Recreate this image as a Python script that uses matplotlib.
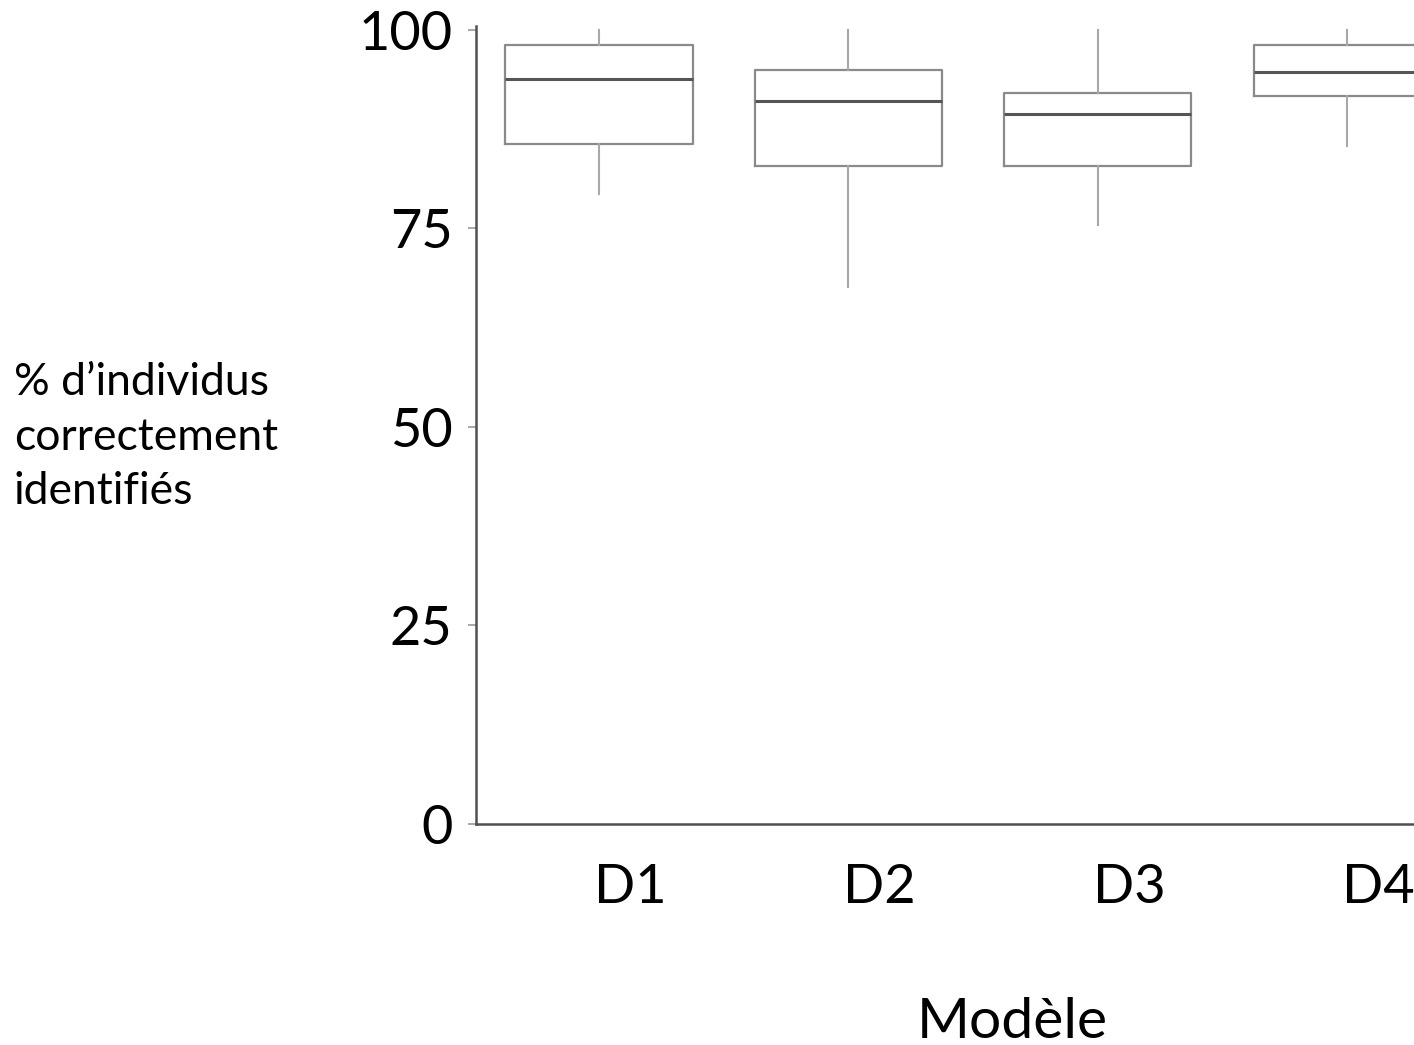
import matplotlib
matplotlib.use("Agg")
import matplotlib.pyplot as plt
from matplotlib.transforms import ScaledTranslation

# Per-model distribution summaries (% of individuals correctly identified)
models = ["D1", "D2", "D3", "D4"]
whisker_low = [79.4, 67.6, 75.5, 85.4]
q1 = [85.6, 82.9, 82.9, 91.7]
median = [93.8, 91.0, 89.4, 94.7]
q3 = [98.1, 95.0, 92.0, 98.1]
whisker_high = [100.0, 100.0, 100.0, 100.0]
y_ticks = [0, 25, 50, 75, 100]

plt.rcParams["font.family"] = ["Lato", "DejaVu Sans"]

fig = plt.figure(figsize=(14.14, 10.45), dpi=100)
fig.patch.set_facecolor("white")

ax = fig.add_axes([476 / 1414, 221 / 1045, 996 / 1414, 798 / 1045])

stats = [
    dict(label=m, whislo=lo, q1=a, med=md, q3=b, whishi=hi, fliers=[])
    for m, lo, a, md, b, hi in zip(models, whisker_low, q1, median, q3, whisker_high)
]
positions = list(range(1, len(models) + 1))
ax.bxp(
    stats,
    positions=positions,
    widths=0.75,
    showcaps=False,
    showfliers=False,
    boxprops=dict(color="#8a8a8a", linewidth=1.6),
    whiskerprops=dict(color="#a8a8a8", linewidth=1.5),
    medianprops=dict(color="#555555", linewidth=2.2),
)

ax.set_xlim(0.507, 4.5)
ax.set_ylim(0, 100.5)

ax.set_yticks(y_ticks)
ax.set_yticklabels([str(t) for t in y_ticks])
ax.tick_params(axis="y", length=6, width=1.2, color="#999999", pad=11, labelsize=39)
ax.set_xticks(positions)
ax.set_xticklabels(models)
ax.tick_params(axis="x", length=0, pad=28, labelsize=39)
shift = ScaledTranslation(31 / 100, 0, fig.dpi_scale_trans)
for lbl in ax.get_xticklabels():
    lbl.set_transform(lbl.get_transform() + shift)

for side in ("top", "right"):
    ax.spines[side].set_visible(False)
for side in ("left", "bottom"):
    ax.spines[side].set_color("#505050")
    ax.spines[side].set_linewidth(1.8)

fig.text(1012 / 1414, 1 - 1022 / 1045, "Modèle", ha="center", va="center", fontsize=41)
fig.text(14 / 1414, 1 - 437 / 1045, "% d’individus\ncorrectement\nidentifiés",
         ha="left", va="center", fontsize=32, linespacing=1.4)

fig.savefig("out.png", dpi=100, facecolor="white")
